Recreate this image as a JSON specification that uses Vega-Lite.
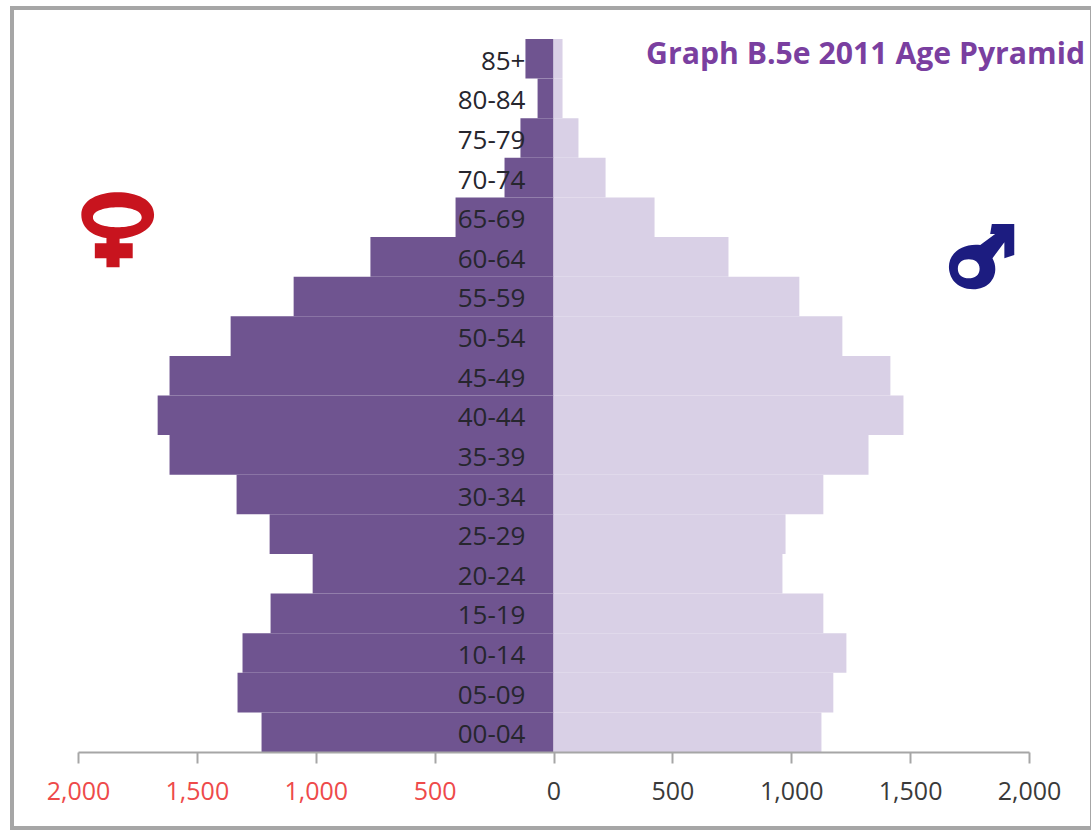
{"$schema":"https://vega.github.io/schema/vega-lite/v6.json","width":1080,"height":820,"autosize":{"type":"none"},"padding":{"left":12,"top":8,"right":0,"bottom":2},"background":"white","view":{"stroke":"#a6a6a6","strokeWidth":4,"fill":"white"},"title":{"text":"Graph B.5e 2011 Age Pyramid","anchor":"end","align":"right","frame":"group","orient":"top","offset":-62,"dx":-7,"font":"Open Sans","fontSize":30.2,"fontWeight":"bold","color":"#7a3fa0"},"datasets":{"pop":[{"age":"85+","Female":118,"Male":38},{"age":"80-84","Female":67,"Male":38},{"age":"75-79","Female":139,"Male":105},{"age":"70-74","Female":206,"Male":219},{"age":"65-69","Female":412,"Male":425},{"age":"60-64","Female":770,"Male":736},{"age":"55-59","Female":1093,"Male":1034},{"age":"50-54","Female":1358,"Male":1215},{"age":"45-49","Female":1615,"Male":1417},{"age":"40-44","Female":1665,"Male":1472},{"age":"35-39","Female":1615,"Male":1325},{"age":"30-34","Female":1333,"Male":1135},{"age":"25-29","Female":1194,"Male":976},{"age":"20-24","Female":1013,"Male":963},{"age":"15-19","Female":1190,"Male":1135},{"age":"10-14","Female":1308,"Male":1232},{"age":"05-09","Female":1329,"Male":1177},{"age":"00-04","Female":1228,"Male":1127}]},"data":{"name":"pop"},"transform":[{"fold":["Female","Male"],"as":["sex","population"]},{"calculate":"datum.sex==='Female'?-datum.population:datum.population","as":"signed"}],"layer":[{"mark":{"type":"bar","stroke":null},"encoding":{"y":{"field":"age","type":"nominal","sort":null,"scale":{"range":[31,744],"paddingInner":0,"paddingOuter":0},"axis":{"orient":"left","title":null,"domain":false,"ticks":false,"labelFont":"Open Sans","labelFontSize":26,"labelColor":"#26262e","labelPadding":0,"labelOffset":3,"offset":-513,"zindex":1,"labelBound":false,"labelOverlap":false}},"x":{"field":"signed","type":"quantitative","stack":null,"scale":{"domain":[-2000,2000],"range":[66,1017]},"axis":{"title":null,"grid":false,"values":[-2000,-1500,-1000,-500,0,500,1000,1500,2000],"labelExpr":"format(abs(datum.value),',')","labelFont":"Open Sans","labelFontSize":25,"labelColor":{"condition":{"test":"datum.value<0","value":"#ee4a4a"},"value":"#3a3a3a"},"domainColor":"#a6a6a6","domainWidth":2,"tickColor":"#a6a6a6","tickWidth":2,"tickSize":11,"labelPadding":16,"offset":-76,"zindex":1,"labelOverlap":false,"labelFlush":false}},"color":{"field":"sex","type":"nominal","legend":null,"scale":{"domain":["Female","Male"],"range":["#6f5490","#d9d0e6"]}}}},{"data":{"values":[{"x":-1833,"age":"65-69","sex":"Female"}]},"transform":[],"mark":{"type":"point","filled":true,"color":"#c8141e","opacity":1,"size":5625,"yOffset":12.5,"shape":"M-0.97,-0.4 C-0.97,-0.8 -0.5,-1 0,-1 C0.5,-1 0.97,-0.8 0.97,-0.4 C0.97,0 0.5,0.2 0.05,0.24 L0.05,0.36 L0.4,0.36 L0.4,0.76 L0.05,0.76 L0.05,1 L-0.3,1 L-0.3,0.76 L-0.61,0.76 L-0.61,0.36 L-0.3,0.36 L-0.3,0.22 C-0.6,0.18 -0.97,0 -0.97,-0.4 Z M-0.66,-0.33 C-0.66,-0.15 -0.3,-0.07 0,-0.07 C0.3,-0.07 0.64,-0.15 0.64,-0.33 C0.64,-0.52 0.3,-0.6 0,-0.6 C-0.3,-0.6 -0.66,-0.52 -0.66,-0.33 Z"},"encoding":{"x":{"field":"x","type":"quantitative"},"y":{"field":"age","type":"nominal","sort":null}}},{"data":{"values":[{"x":1802,"age":"60-64","sex":"Male"}]},"transform":[],"mark":{"type":"point","filled":true,"color":"#1c1c80","opacity":1,"size":4356,"yOffset":2,"shape":"M0.98,-1.06 L0.98,-0.12 L0.68,-0.02 L0.68,-0.5 L0.32,-0.02 C0.55,0.4 0.3,0.92 -0.26,0.92 C-0.8,0.92 -1,0.55 -1,0.24 C-1,-0.2 -0.55,-0.48 -0.05,-0.42 L0.4,-0.75 L0.25,-0.75 L0.3,-1.06 Z M-0.73,0.3 C-0.73,0.5 -0.58,0.59 -0.4,0.59 C-0.22,0.59 -0.07,0.5 -0.07,0.3 C-0.07,0.1 -0.22,0.01 -0.4,0.01 C-0.58,0.01 -0.73,0.1 -0.73,0.3 Z"},"encoding":{"x":{"field":"x","type":"quantitative"},"y":{"field":"age","type":"nominal","sort":null}}}]}
